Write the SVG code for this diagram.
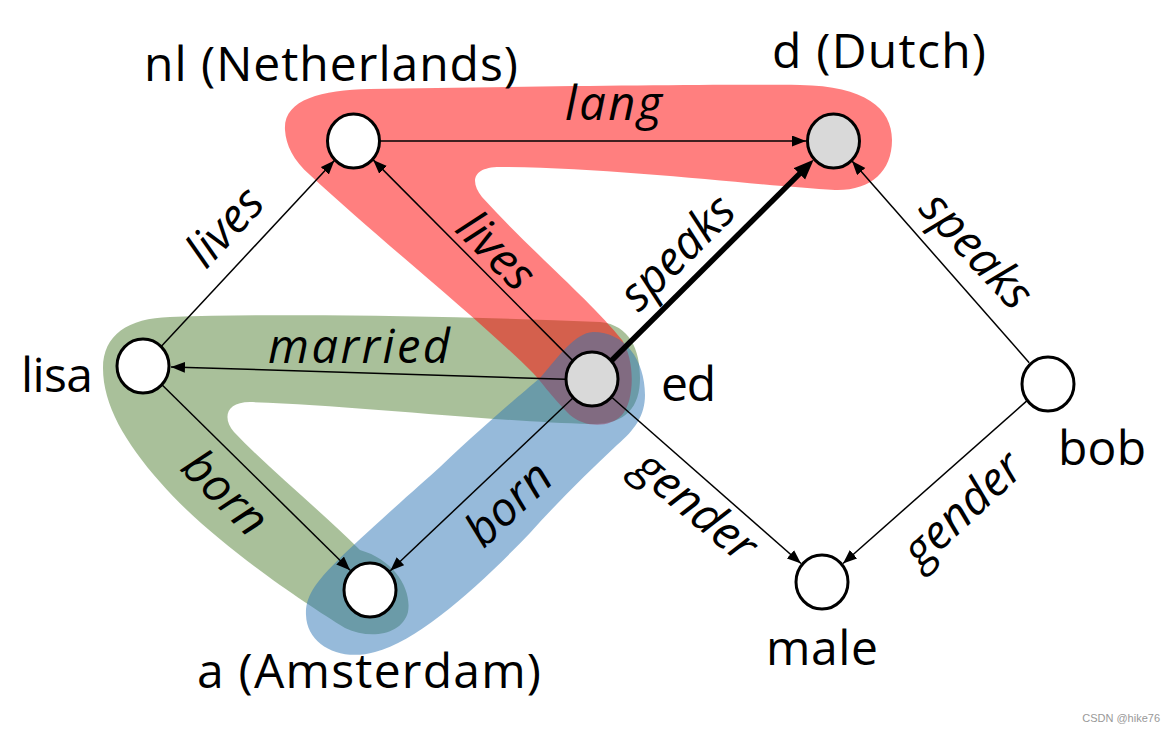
<svg xmlns="http://www.w3.org/2000/svg" width="1175" height="731" viewBox="0 0 1175 731">
<style>
.node{stroke:#000;stroke-width:3}
.w{fill:#fff}
.g{fill:#d9d9d9}
.lbl{font-family:"Open Sans","Noto Sans","Liberation Sans",sans-serif;font-size:48px;fill:#000}
.el{font-family:"Open Sans","Noto Sans","Liberation Sans",sans-serif;font-size:47px;font-style:italic;fill:#000}
.e{stroke:#000;stroke-width:1.5;fill:none;marker-end:url(#ah)}
.thick{stroke:#000;stroke-width:5.5;fill:none;marker-end:url(#ahT)}
</style>
<defs>
<marker id="ah" markerUnits="userSpaceOnUse" markerWidth="16" markerHeight="12" refX="14" refY="5.5" orient="auto">
<path d="M0,0 L14,5.5 L0,11 z" fill="#000"/>
</marker>
<marker id="ahT" markerUnits="userSpaceOnUse" markerWidth="22" markerHeight="18" refX="6" refY="8" orient="auto">
<path d="M0,0 L20,8 L0,16 z" fill="#000"/>
</marker>
</defs>
<rect width="1175" height="731" fill="#fff"/>
<g id="highlights">
<path id="green" fill="#548235" fill-opacity="0.5" d="M103,368 C103,335 128,318 170,317 C300,313 450,316 600,322 C630,325 640,350 640,378 C640,408 625,425 590,424 C500,422 350,405 250,402 C226,402 222,418 234,432 C270,470 320,510 360,550 C395,560 412,590 408,612 C402,635 370,640 345,628 C300,600 210,540 160,482 C125,442 103,405 103,368 Z"/>
<path id="red" fill="#ff0000" fill-opacity="0.5" d="M285,130 C283,100 320,90 370,89 C500,87 700,84 800,85 C865,86 892,108 892,140 C892,172 870,191 835,190 C760,186 620,168 500,167 C472,167 470,182 482,197 C530,250 590,300 622,340 C635,360 635,400 622,415 C610,428 585,428 570,415 C550,395 540,380 533,373 C480,320 380,240 310,175 C293,160 286,145 285,130 Z"/>
<path id="blue" fill="#2e75b6" fill-opacity="0.5" d="M593,332 C625,332 645,360 645,395 C645,415 635,430 617,445 C585,475 555,505 530,533 C480,585 420,640 375,652 C340,662 307,645 306,615 C305,595 318,580 340,558 C380,520 420,485 440,467 C490,420 520,395 540,378 C560,355 575,333 593,332 Z"/>
</g>
<g id="connectors">
<path class="e" d="M380,141 L806,141"/>
<path class="e" d="M161.4,346.2 L334.4,160.5"/>
<path class="e" d="M573,360.9 L373.2,159.9"/>
<path class="thick" d="M611.1,361 L803.7,169.6"/>
<path class="e" d="M1029.2,362.7 L852,161"/>
<path class="e" d="M565,379.2 L171,366.9"/>
<path class="e" d="M162.2,385 L350.1,570.3"/>
<path class="e" d="M572.4,398.5 L390.3,570.8"/>
<path class="e" d="M612.3,397.8 L801,563.5"/>
<path class="e" d="M1026.8,400.9 L843,563.5"/>
</g>
<g id="edge-labels">
<text class="el" x="565" y="120" textLength="97" lengthAdjust="spacing">lang</text>
<text class="el" x="268" y="363" textLength="182" lengthAdjust="spacing">married</text>
<text class="el" text-anchor="middle" transform="translate(224,226) rotate(-47)" y="17">lives</text>
<text class="el" text-anchor="middle" transform="translate(497,250) rotate(45)" y="17">lives</text>
<text class="el" text-anchor="middle" transform="translate(680,255) rotate(-45)" y="12">speaks</text>
<text class="el" text-anchor="middle" transform="translate(974,253) rotate(47)" y="12">speaks</text>
<text class="el" text-anchor="middle" transform="translate(226,492) rotate(44.6)" y="17">born</text>
<text class="el" text-anchor="middle" transform="translate(508,503) rotate(-43.4)" y="17">born</text>
<text class="el" text-anchor="middle" transform="translate(693,509) rotate(40)" y="12">gender</text>
<text class="el" text-anchor="middle" transform="translate(965,512) rotate(-43)" y="12">gender</text>
</g>
<g id="node-nl"><ellipse class="node w" cx="353.5" cy="141" rx="26" ry="27"/><text class="lbl" x="144" y="81" textLength="374" lengthAdjust="spacing">nl (Netherlands)</text></g>
<g id="node-d"><ellipse class="node g" cx="833.5" cy="141" rx="26" ry="27"/><text class="lbl" x="772" y="68" textLength="214" lengthAdjust="spacing">d (Dutch)</text></g>
<g id="node-lisa"><ellipse class="node w" cx="143" cy="366" rx="26" ry="27"/><text class="lbl" x="21" y="392" textLength="72" lengthAdjust="spacing">lisa</text></g>
<g id="node-ed"><ellipse class="node g" cx="592" cy="379" rx="26" ry="27"/><text class="lbl" x="661" y="401" textLength="55" lengthAdjust="spacing">ed</text></g>
<g id="node-bob"><ellipse class="node w" cx="1048" cy="384" rx="26" ry="27"/><text class="lbl" x="1058" y="465" textLength="88" lengthAdjust="spacing">bob</text></g>
<g id="node-a"><ellipse class="node w" cx="370" cy="590" rx="26" ry="27"/><text class="lbl" x="197" y="688" textLength="344" lengthAdjust="spacing">a (Amsterdam)</text></g>
<g id="node-male"><ellipse class="node w" cx="822" cy="582" rx="26" ry="27"/><text class="lbl" x="766" y="665" textLength="112" lengthAdjust="spacing">male</text></g>
<text x="1160" y="722" text-anchor="end" font-family="Liberation Sans, sans-serif" font-size="11" fill="#999">CSDN @hike76</text>
</svg>
